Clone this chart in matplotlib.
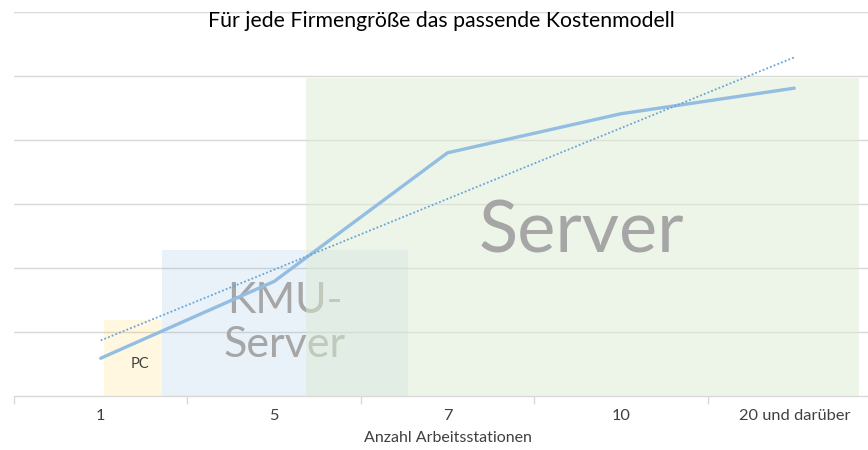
import matplotlib
matplotlib.use("Agg")
import matplotlib.pyplot as plt
import numpy as np
from matplotlib.patches import Rectangle

categories = ["1", "5", "7", "10", "20 und darüber"]
values = [0.59, 1.79, 3.80, 4.41, 4.81]
title = "Für jede Firmengröße das passende Kostenmodell"
xlabel = "Anzahl Arbeitsstationen"

# zone boxes: (label, x0, x1, height)
zone_labels = ["PC", "KMU-\nServer", "Server"]
zone_x0 = [0.02, 0.353, 1.183]
zone_x1 = [0.353, 1.771, 4.376]
zone_top = [1.19, 2.28, 4.97]

plt.rcParams['font.family'] = ['Lato', 'DejaVu Sans']

fig = plt.figure(figsize=(8.68, 4.5), dpi=100)
ax = fig.add_axes([14/868, 1-396/450, 867/868, 384/450])

x = np.arange(len(categories))
ax.set_xlim(-0.5, 4.5)
ax.set_ylim(0, 6)

for y in range(1, 7):
    ax.axhline(y, color='#d9d9d9', lw=1.0, zorder=0)

ax.plot(x, values, color='#93bee2', lw=2.4, zorder=5.5, solid_capstyle='round')
coef = np.polyfit(x, values, 1)
ax.plot(x[[0, -1]], np.polyval(coef, x[[0, -1]]), color='#6aa4d8', lw=1.3,
        ls=(0, (1, 1.2)), zorder=5.5)

colors = ['#ffc000', '#5b9bd5', '#ddebd3']
alphas = [0.12, 0.13, 0.5]
zorders = [2, 3, 5]
for lab, x0, x1, top, c, a, z in zip(zone_labels, zone_x0, zone_x1, zone_top, colors, alphas, zorders):
    ax.add_patch(Rectangle((x0, 0), x1 - x0, top, facecolor=c, alpha=a,
                           edgecolor='none', zorder=z))

ax.text(0.226, 0.5, "PC", ha='center', va='center', fontsize=10.5, color='#404040', zorder=6)
ax.text(1.062, 1.14, "KMU-\nServer", ha='center', va='center', fontsize=31,
        color='#a6a6a6', linespacing=1.22, zorder=4)
ax.text(2.774, 2.56, "Server", ha='center', va='center', fontsize=52,
        color='#a6a6a6', zorder=6)

for s in ['top', 'right', 'left']:
    ax.spines[s].set_visible(False)
ax.spines['bottom'].set_color('#d9d9d9')
ax.spines['bottom'].set_linewidth(1.0)
ax.set_yticks([])
ax.set_xticks(x)
ax.set_xticklabels(categories, fontsize=11.8, color='#404040')
ax.tick_params(axis='x', length=0, pad=9)
ax.set_xticks(np.arange(-0.5, 4.6, 1.0), minor=True)
ax.tick_params(axis='x', which='minor', length=6, color='#d9d9d9', width=1)
ax.set_xlabel(xlabel, fontsize=11.5, color='#404040', labelpad=6)

fig.text(441/868, 1-21/450, title, ha='center', va='center', fontsize=15.3, color='#000000')

fig.savefig("out.png", dpi=100)
